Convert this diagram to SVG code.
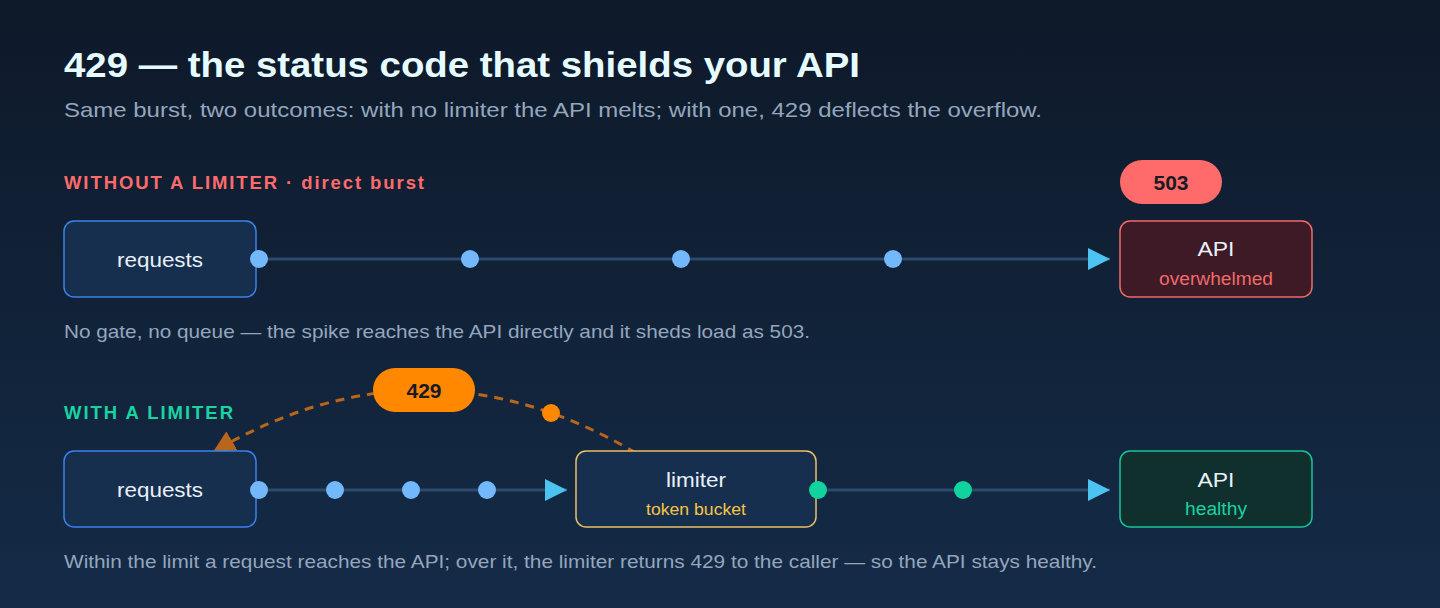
<svg xmlns="http://www.w3.org/2000/svg" width="1440" height="608" viewBox="0 0 1440 608">
<defs>
<linearGradient id="bg" x1="0" y1="0" x2="0" y2="1">
<stop offset="0" stop-color="#0e1929"/>
<stop offset="1" stop-color="#142b47"/>
</linearGradient>
<marker id="arr" viewBox="0 0 10 10" refX="10" refY="5" markerWidth="22" markerHeight="22" markerUnits="userSpaceOnUse" orient="auto">
<path d="M0,0 L10,5 L0,10 Z" fill="#4cc3f0"/>
</marker>
<marker id="arrO" viewBox="0 0 10 10" refX="10" refY="5" markerWidth="22" markerHeight="22" markerUnits="userSpaceOnUse" orient="auto">
<path d="M0,0 L10,5 L0,10 Z" fill="#b8661c"/>
</marker>
<style>
text{font-family:"Liberation Sans",Arial,sans-serif}
.title{font-size:35px;font-weight:bold;fill:#e6fbff}
.sub{font-size:21px;fill:#94a6bd}
.cap{font-size:18.5px;fill:#94a6bd}
.sec{font-size:18.5px;font-weight:bold;letter-spacing:1px}
.box{stroke-width:1.5}
.main{font-size:21px;fill:#e8f1f8;text-anchor:middle}
.small{font-size:18px;text-anchor:middle}
.wire{stroke:#2c4a6c;stroke-width:3;fill:none}
.pill{font-size:21px;font-weight:bold;fill:#1a1a24;text-anchor:middle}
.blue{fill:#72b8fb}
.green{fill:#10d39e}
</style>
</defs>
<rect width="1440" height="608" fill="url(#bg)"/>
<text class="title" x="64" y="77" textLength="796" lengthAdjust="spacingAndGlyphs">429 — the status code that shields your API</text>
<text class="sub" x="64" y="117" textLength="978" lengthAdjust="spacingAndGlyphs">Same burst, two outcomes: with no limiter the API melts; with one, 429 deflects the overflow.</text>

<text class="sec" x="64" y="189" fill="#ff6b6b" textLength="361">WITHOUT A LIMITER · direct burst</text>
<text class="sec" x="64" y="419" fill="#19d3a2" textLength="170">WITH A LIMITER</text>

<g id="connectors">
<line class="wire" x1="259" y1="259" x2="1110" y2="259" marker-end="url(#arr)"/>
<line class="wire" x1="259" y1="490" x2="567" y2="490" marker-end="url(#arr)"/>
<line class="wire" x1="818" y1="490" x2="1110" y2="490" marker-end="url(#arr)"/>
<path d="M636,453 Q423.5,328 213,452" fill="none" stroke="#b8661c" stroke-width="3" stroke-dasharray="9,7" marker-end="url(#arrO)"/>
</g>

<g id="req1">
<rect class="box" x="64" y="221" width="192" height="76" rx="10" fill="#172f4f" stroke="#3b82e8"/>
<text class="main" x="160" y="267" textLength="86" lengthAdjust="spacingAndGlyphs">requests</text>
</g>
<g id="api1">
<rect class="box" x="1120" y="221" width="192" height="76" rx="10" fill="#3d1a26" stroke="#f06a6a"/>
<text class="main" x="1216" y="256" fill="#e6e6ea" textLength="37" lengthAdjust="spacingAndGlyphs">API</text>
<text class="small" x="1216" y="285" fill="#f06a6a" textLength="114" lengthAdjust="spacingAndGlyphs">overwhelmed</text>
</g>
<g id="pill503">
<rect x="1120" y="160" width="102" height="44" rx="22" fill="#ff6b6b"/>
<text class="pill" x="1171" y="190">503</text>
</g>
<g id="dots1">
<circle class="blue" cx="259" cy="259" r="9"/>
<circle class="blue" cx="470" cy="259" r="9"/>
<circle class="blue" cx="681" cy="259" r="9"/>
<circle class="blue" cx="893" cy="259" r="9"/>
</g>
<text class="cap" x="64" y="338" textLength="746" lengthAdjust="spacingAndGlyphs">No gate, no queue — the spike reaches the API directly and it sheds load as 503.</text>

<g id="req2">
<rect class="box" x="64" y="451" width="192" height="76" rx="10" fill="#172f4f" stroke="#3b82e8"/>
<text class="main" x="160" y="497" textLength="86" lengthAdjust="spacingAndGlyphs">requests</text>
</g>
<g id="limiter">
<rect class="box" x="576" y="451" width="240" height="76" rx="10" fill="#172f4f" stroke="#eac066"/>
<text class="main" x="696" y="487" textLength="60" lengthAdjust="spacingAndGlyphs">limiter</text>
<text class="small" x="696" y="515" fill="#f5c542" style="font-size:17px" textLength="100" lengthAdjust="spacingAndGlyphs">token bucket</text>
</g>
<g id="api2">
<rect class="box" x="1120" y="451" width="192" height="76" rx="10" fill="#0f302c" stroke="#19c39a"/>
<text class="main" x="1216" y="487" textLength="37" lengthAdjust="spacingAndGlyphs">API</text>
<text class="small" x="1216" y="515" fill="#19d3a2" textLength="62" lengthAdjust="spacingAndGlyphs">healthy</text>
</g>
<g id="pill429">
<rect x="373" y="368" width="102" height="44" rx="22" fill="#ff8800"/>
<text class="pill" x="424" y="398">429</text>
</g>
<g id="dots2">
<circle class="blue" cx="259" cy="490" r="9"/>
<circle class="blue" cx="335" cy="490" r="9"/>
<circle class="blue" cx="411" cy="490" r="9"/>
<circle class="blue" cx="487" cy="490" r="9"/>
<circle class="green" cx="818" cy="490" r="9"/>
<circle class="green" cx="963" cy="490" r="9"/>
<circle cx="551" cy="413" r="9" fill="#ff8800"/>
</g>
<text class="cap" x="64" y="568" textLength="1033" lengthAdjust="spacingAndGlyphs">Within the limit a request reaches the API; over it, the limiter returns 429 to the caller — so the API stays healthy.</text>
</svg>
